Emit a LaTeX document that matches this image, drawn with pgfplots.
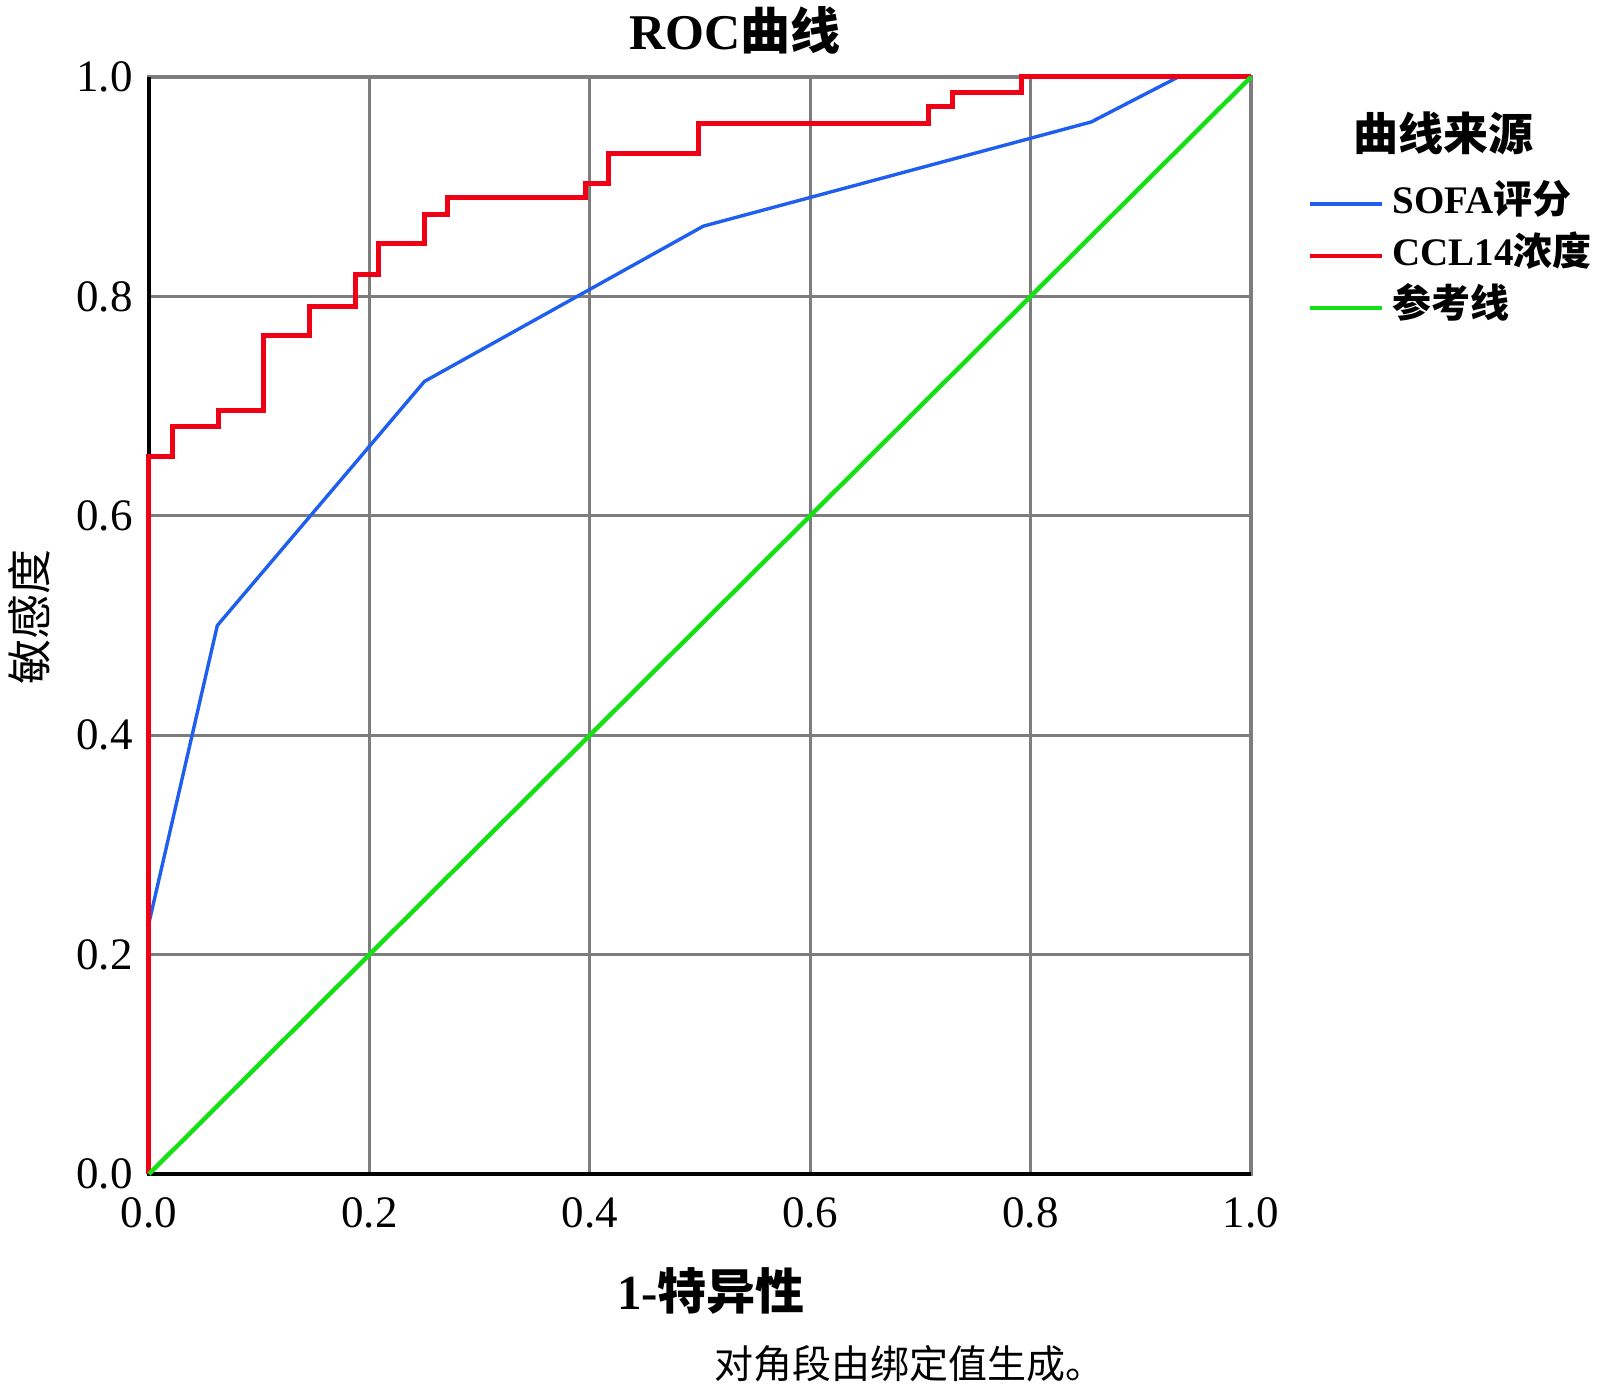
\documentclass[border=0pt]{standalone}
\usepackage{fontspec}
\setmainfont{Liberation Serif}
\newfontfamily\cjk{Noto Sans CJK SC}
\usepackage{pgfplots}
\pgfplotsset{compat=1.18}
\definecolor{rocblue}{RGB}{30,95,240}
\definecolor{rocred}{RGB}{240,0,20}
\definecolor{rocgreen}{RGB}{20,225,20}
\definecolor{gridgray}{RGB}{125,125,125}
\begin{document}
\begin{tikzpicture}
\useasboundingbox (-74.5pt,-108pt) rectangle (725.5pt,587pt);
\begin{axis}[
  scale only axis,
  width=551pt, height=548.5pt,
  xmin=0, xmax=1, ymin=0, ymax=1,
  xtick={0,0.2,0.4,0.6,0.8,1},
  ytick={0,0.2,0.4,0.6,0.8,1},
  clip=false,
  major tick length=0pt,
  tick style={draw=none},
  grid=major,
  major grid style={draw=gridgray, line width=1.6pt},
  axis line style={draw=gridgray, line width=1.6pt},
  /pgf/number format/assume math mode=true,
  /pgf/number format/.cd, fixed, fixed zerofill, precision=1, /pgfplots/.cd,
  tick label style={font=\fontsize{22.5}{27}\selectfont},
  xticklabel style={inner sep=0pt, anchor=north, yshift=-11.5pt},
  yticklabel style={inner sep=0pt, anchor=east, xshift=-8pt},
  title={ROC{\cjk 曲线}},
  title style={at={(axis description cs:0.532,1.0315)}, anchor=center, inner sep=0pt, font=\fontsize{25}{30}\selectfont\bfseries},
  xlabel={1-{\cjk 特异性}},
  xlabel style={at={(axis description cs:0.510,-0.1067)}, anchor=center, inner sep=0pt, font=\fontsize{24.5}{29}\selectfont\bfseries},
  ylabel={\cjk 敏感度},
  ylabel style={at={(axis description cs:-0.109,0.508)}, anchor=center, inner sep=0pt, font=\fontsize{22.5}{27}\selectfont},
  legend style={at={(axis description cs:1.0517,0.901)}, anchor=north west, draw=none, fill=none, inner sep=0pt,
    font=\fontsize{19.5}{23}\selectfont\bfseries,
    nodes={inner sep=0pt, text height=14pt, text depth=4pt, anchor=west},
    row sep=8pt,
    /tikz/every odd column/.append style={column sep=4pt}},
  legend image code/.code={\draw[#1, line width=2pt] (0pt,0pt) -- (36pt,0pt);},
  legend cell align=left,
]
\draw[black, line width=2pt] (rel axis cs:0,1) -- (rel axis cs:0,0) -- (rel axis cs:1,0);
\addplot[rocblue, line width=1.7pt] coordinates {
  (0,0.229) (0.062,0.50) (0.25,0.7225) (0.503,0.864) (0.855,0.959) (0.934,1.0) (1,1)};
\addlegendentry{SOFA{\cjk 评分}}
\addplot[rocred, line width=2.5pt, const plot] coordinates {
  (0,0) (0,0.654) (0.021,0.681) (0.063,0.696) (0.104,0.764) (0.146,0.791)
  (0.187,0.820) (0.208,0.848) (0.250,0.875) (0.271,0.890) (0.396,0.903)
  (0.417,0.930) (0.499,0.958) (0.707,0.973) (0.729,0.986) (0.792,1.0) (1,1)};
\addlegendentry{CCL14{\cjk 浓度}}
\addplot[rocgreen, line width=2.2pt] coordinates {(0,0) (1,1)};
\addlegendentry{\cjk 参考线}
\node[font=\fontsize{22.5}{27}\selectfont\bfseries\cjk, inner sep=0pt] at (axis description cs:1.175,0.949) {曲线来源};
\node[font=\fontsize{19.5}{23}\selectfont\cjk, inner sep=0pt] at (axis description cs:0.690,-0.173) {对角段由绑定值生成。};
\end{axis}
\end{tikzpicture}
\end{document}
